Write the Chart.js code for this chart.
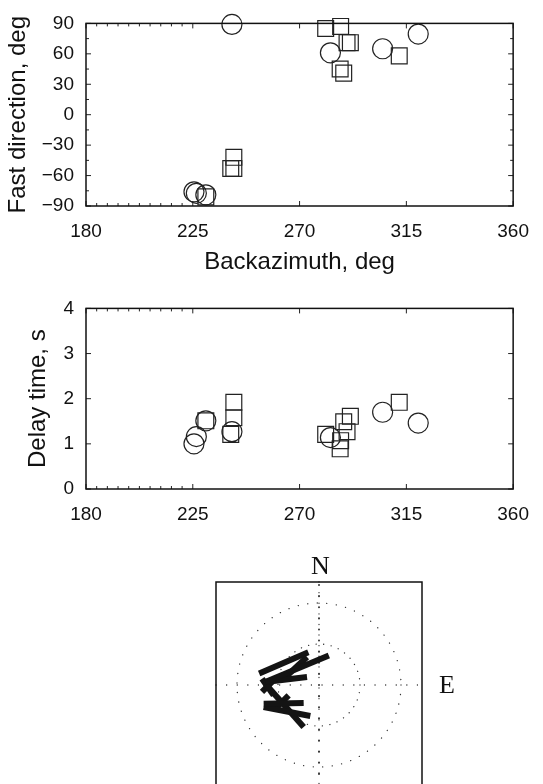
<!DOCTYPE html>
<html>
<head>
<meta charset="utf-8">
<script src="https://cdn.jsdelivr.net/npm/chart.js@4.4.1/dist/chart.umd.min.js"></script>
<style>
  html, body { margin: 0; padding: 0; background: #fff; overflow: hidden; }
  .box { position: absolute; left: 0; width: 543px; }
</style>
</head>
<body>
<div class="box" style="top:0;height:290px"><canvas id="c1" width="543" height="290"></canvas></div>
<div class="box" style="top:285px;height:255px"><canvas id="c2" width="543" height="255"></canvas></div>
<div class="box" style="top:550px;height:250px"><canvas id="c3" width="543" height="250"></canvas></div>
<script>
// circles: backazimuth, fast direction, delay time
const circleBaz = [225.5, 226.5, 230.5, 241.5, 283, 305, 320];
const circlePhi = [-76, -77.5, -79, 89, 61, 65, 79.5];
const circleDt  = [1.0, 1.16, 1.51, 1.27, 1.14, 1.70, 1.46];

// squares
const squareBaz = [230.5, 241, 242.3, 242.3, 281, 287.3, 287.1, 288.6, 290, 291.4, 312];
const squarePhi = [-81, -53, -42, -53, 85, 87, 45, 41, 71, 71, 58];
const squareDt  = [1.51, 1.21, 1.92, 1.58, 1.21, 1.07, 0.89, 1.49, 1.27, 1.61, 1.92];

// minor tick positions
const bazMinor = [184.5, 189, 193.5, 198, 202.5, 207, 211.5, 216, 220.5];
const phiMinor = [-75, -45, -15, 15, 45, 75];

// splitting bars in the map panel (outer ring = 1)
const barX1 = [-0.73, -0.655, -0.655, -0.43, -0.695, -0.695, -0.675, -0.675, -0.655, -0.533];
const barY1 = [0.14, 0.037, 0.037, 0.077, 0.077, -0.085, -0.228, -0.268, 0.016, -0.289];
const barX2 = [-0.13, 0.12, -0.146, -0.146, -0.553, -0.573, -0.187, -0.106, -0.187, -0.37];
const barY2 = [0.40, 0.36, 0.098, 0.341, -0.126, 0.037, -0.22, -0.378, -0.512, -0.126];
const rings = [0.5, 1];

const INK = '#111';
const FONT = 'Liberation Sans, Arial, Helvetica, sans-serif';

const boxTicks = {
  id: 'boxTicks',
  afterDatasetsDraw(chart, args, opts) {
    const {ctx, chartArea: a, scales: {x, y}} = chart;
    const seg = (x1, y1, x2, y2) => { ctx.beginPath(); ctx.moveTo(x1, y1); ctx.lineTo(x2, y2); ctx.stroke(); };
    ctx.save();
    ctx.strokeStyle = '#222';
    ctx.lineWidth = 1;
    const xt = x.ticks.map(t => [t.value, 5]).concat((opts.minorX || []).map(v => [v, 3]));
    xt.forEach(([v, len]) => {
      const p = x.getPixelForValue(v);
      seg(p, a.bottom, p, a.bottom - len);
      seg(p, a.top, p, a.top + len);
    });
    const yt = y.ticks.map(t => [t.value, 5]).concat((opts.minorY || []).map(v => [v, 3]));
    yt.forEach(([v, len]) => {
      const p = y.getPixelForValue(v);
      seg(a.left, p, a.left + len, p);
      seg(a.right, p, a.right - len, p);
    });
    ctx.strokeStyle = INK;
    ctx.lineWidth = 1.5;
    ctx.strokeRect(a.left, a.top, a.width, a.height);
    ctx.restore();
  }
};

function markerSets(xs, ys) {
  return [
    {
      data: xs.circle.map((v, i) => ({x: v, y: ys.circle[i]})),
      pointStyle: 'circle', pointRadius: 10,
      backgroundColor: 'rgba(0,0,0,0)', borderColor: '#222', borderWidth: 1.2,
      clip: false
    },
    {
      data: xs.square.map((v, i) => ({x: v, y: ys.square[i]})),
      pointStyle: 'rect', pointRadius: 11.2,
      backgroundColor: 'rgba(0,0,0,0)', borderColor: '#222', borderWidth: 1.2,
      clip: false
    }
  ];
}

const minus = v => (v < 0 ? '\u2212' + Math.abs(v) : String(v));

function xScale(withTitle, height) {
  return {
    type: 'linear', min: 180, max: 360,
    ticks: { stepSize: 45, color: INK, font: {family: FONT, size: 19}, padding: 14, maxRotation: 0 },
    grid: { display: false, drawTicks: false },
    border: { display: false },
    title: { display: withTitle, text: 'Backazimuth, deg', color: INK, font: {family: FONT, size: 24}, padding: 0 },
    afterFit: s => { s.height = height; }
  };
}

// fast direction vs backazimuth
new Chart(document.getElementById('c1'), {
  type: 'scatter',
  data: { datasets: markerSets({circle: circleBaz, square: squareBaz}, {circle: circlePhi, square: squarePhi}) },
  options: {
    responsive: false, animation: false,
    layout: { padding: {top: 15.5, right: 21, bottom: 13.6, left: 0} },
    plugins: { legend: {display: false}, tooltip: {enabled: false}, boxTicks: {minorX: bazMinor, minorY: phiMinor} },
    scales: {
      x: xScale(true, 70.4),
      y: {
        min: -90, max: 90,
        ticks: { stepSize: 30, color: INK, font: {family: FONT, size: 19}, padding: 12, callback: minus },
        grid: { display: false, drawTicks: false },
        border: { display: false },
        title: { display: true, text: 'Fast direction, deg', color: INK, font: {family: FONT, size: 24}, padding: {top: 4, bottom: 0} },
        afterFit: s => { s.width = 86; }
      }
    }
  },
  plugins: [boxTicks]
});

// delay time vs backazimuth
new Chart(document.getElementById('c2'), {
  type: 'scatter',
  data: { datasets: markerSets({circle: circleBaz, square: squareBaz}, {circle: circleDt, square: squareDt}) },
  options: {
    responsive: false, animation: false,
    layout: { padding: {top: 15, right: 21, bottom: 6, left: 20} },
    plugins: { legend: {display: false}, tooltip: {enabled: false}, boxTicks: {minorX: bazMinor, minorY: []} },
    scales: {
      x: xScale(false, 45),
      y: {
        min: 0, max: 4,
        ticks: { stepSize: 1, color: INK, font: {family: FONT, size: 19}, padding: 12 },
        grid: { display: false, drawTicks: false },
        border: { display: false },
        title: { display: true, text: 'Delay time, s', color: INK, font: {family: FONT, size: 24}, padding: {top: 4, bottom: 0} },
        afterFit: s => { s.width = 66; }
      }
    }
  },
  plugins: [boxTicks]
});

// map panel with splitting bars
const mapGrid = {
  id: 'mapGrid',
  beforeDatasetsDraw(chart) {
    const {ctx, chartArea: a, scales: {x, y}} = chart;
    const cx = x.getPixelForValue(0), cy = y.getPixelForValue(0);
    ctx.save();
    ctx.strokeStyle = '#333';
    ctx.lineWidth = 1.3;
    ctx.lineCap = 'round';
    rings.forEach(r => {
      const rp = x.getPixelForValue(r) - cx;
      ctx.setLineDash([0.1, r < 1 ? 7.5 : 9.5]);
      ctx.beginPath();
      ctx.arc(cx, cy, rp, 0, Math.PI * 2);
      ctx.stroke();
    });
    ctx.setLineDash([0.1, 10.5]);
    ctx.beginPath();
    ctx.moveTo(a.left, cy); ctx.lineTo(a.right, cy);
    ctx.moveTo(cx, a.top); ctx.lineTo(cx, a.bottom);
    ctx.stroke();
    ctx.lineWidth = 2;
    ctx.setLineDash([0.1, 11]);
    ctx.beginPath();
    ctx.moveTo(cx, cy); ctx.lineTo(cx, a.bottom);
    ctx.moveTo(cx, cy); ctx.lineTo(cx, a.top);
    ctx.stroke();
    ctx.restore();
  },
  afterDraw(chart) {
    const {ctx, chartArea: a, scales: {x, y}} = chart;
    const cx = x.getPixelForValue(0), cy = y.getPixelForValue(0);
    ctx.save();
    ctx.strokeStyle = INK;
    ctx.lineWidth = 1.5;
    ctx.strokeRect(a.left, a.top, a.width, a.height);
    ctx.fillStyle = INK;
    ctx.font = '26px "Liberation Serif", "DejaVu Serif", serif';
    ctx.textAlign = 'center';
    ctx.textBaseline = 'middle';
    ctx.fillText('N', cx + 1.5, a.top - 15);
    ctx.fillText('E', a.right + 25, cy + 1);
    ctx.restore();
  }
};

new Chart(document.getElementById('c3'), {
  type: 'scatter',
  data: {
    datasets: barX1.map((v, i) => ({
      data: [{x: v, y: barY1[i]}, {x: barX2[i], y: barY2[i]}],
      showLine: true, borderColor: '#141414', borderWidth: 6,
      borderCapStyle: 'butt', pointRadius: 0
    }))
  },
  options: {
    responsive: false, animation: false,
    layout: { padding: {top: 32, right: 121, bottom: 12, left: 216} },
    plugins: { legend: {display: false}, tooltip: {enabled: false} },
    scales: {
      x: { type: 'linear', min: -1.256, max: 1.256, display: false },
      y: { type: 'linear', min: -1.256, max: 1.256, display: false }
    }
  },
  plugins: [mapGrid]
});
</script>
</body>
</html>
